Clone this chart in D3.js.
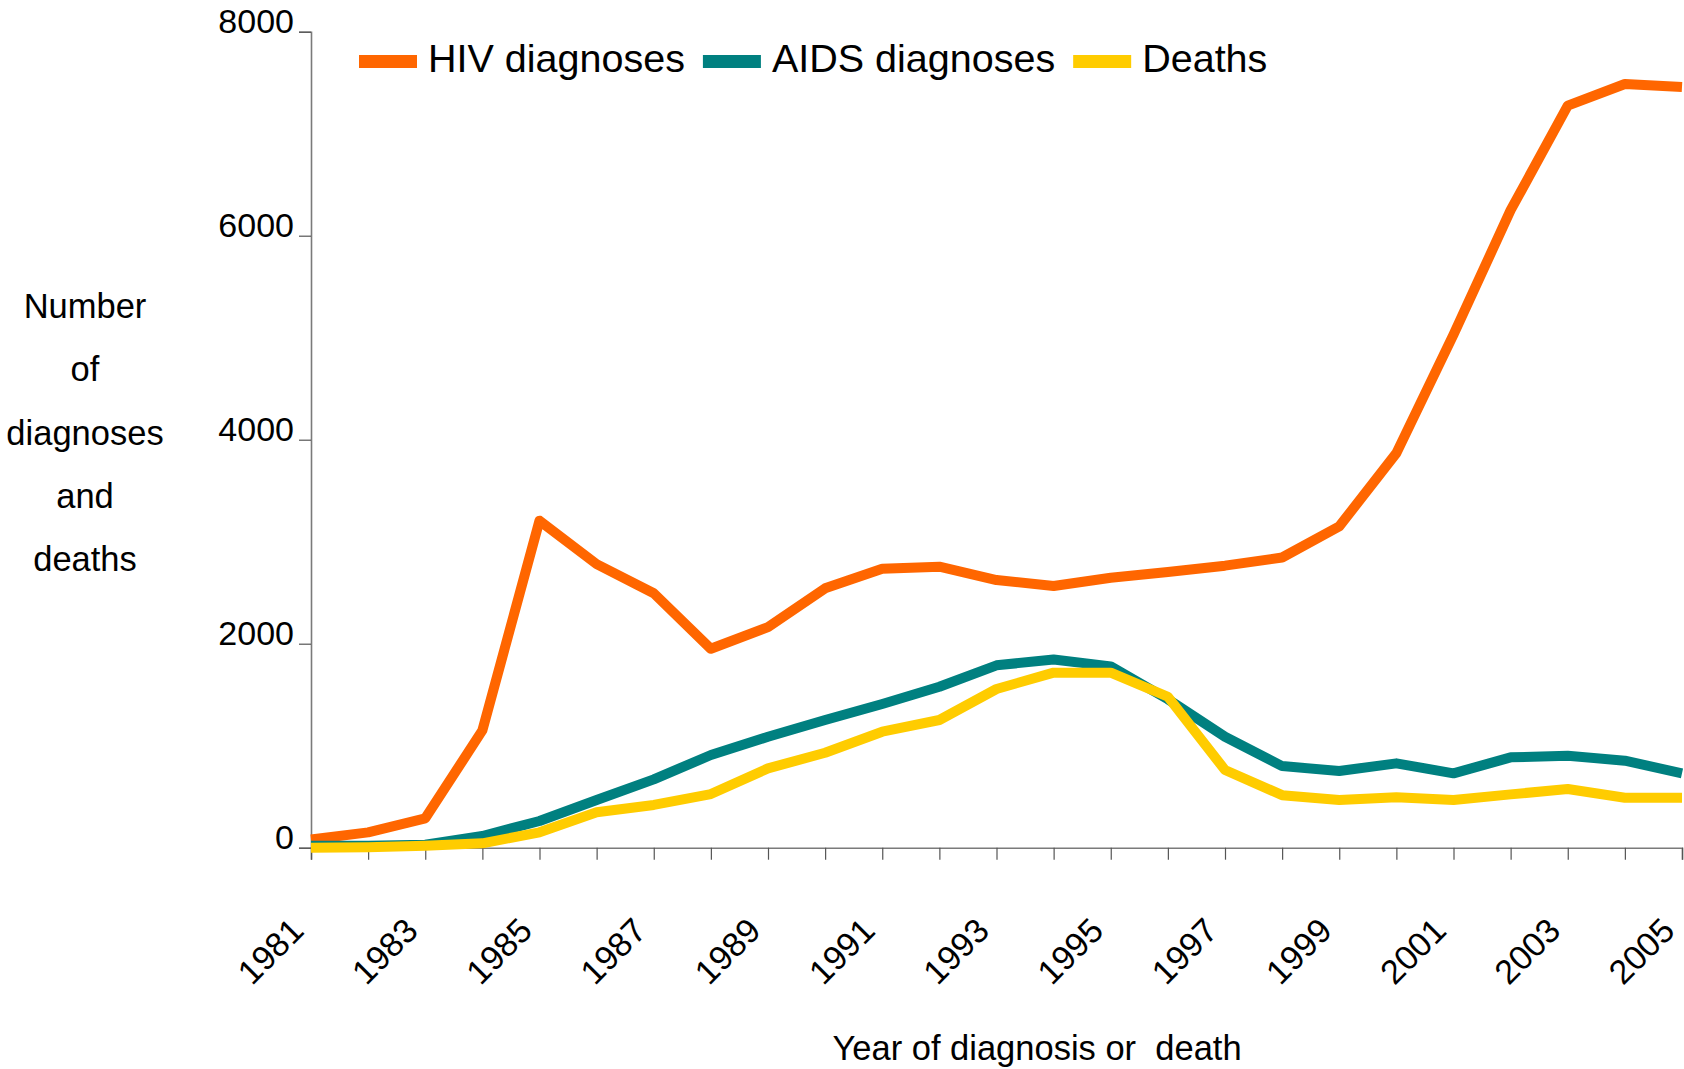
<!DOCTYPE html>
<html>
<head>
<meta charset="utf-8">
<script src="https://cdn.jsdelivr.net/npm/d3@7"></script>
<style>
  html, body { margin: 0; padding: 0; background: #ffffff; }
  svg { display: block; font-family: "Liberation Sans", Arial, sans-serif; }
  text { fill: #000000; }
</style>
</head>
<body>
<svg id="chart" width="1684" height="1069"></svg>
<script>
// Annual counts, 1981–2005
const years = d3.range(1981, 2006);
const hivDiagnoses = [80, 150, 288, 1150, 3206, 2780, 2495, 1950, 2162, 2543, 2735, 2755, 2624, 2566, 2647, 2703, 2765, 2845, 3150, 3868, 5030, 6250, 7275, 7487, 7457];
const aidsDiagnoses = [20, 20, 30, 115, 262, 468, 670, 909, 1088, 1252, 1409, 1578, 1788, 1845, 1778, 1455, 1088, 800, 752, 827, 729, 886, 902, 853, 729];
const deaths = [0, 5, 20, 43, 151, 347, 419, 526, 778, 931, 1137, 1252, 1556, 1716, 1716, 1480, 762, 515, 468, 494, 468, 523, 575, 490, 490];

const seriesNames = ["HIV diagnoses", "AIDS diagnoses", "Deaths"];
const seriesColors = ["#ff6600", "#008080", "#ffcc00"];
const yTickValues = [0, 2000, 4000, 6000, 8000];
const yTitleLines = ["Number", "of", "diagnoses", "and", "deaths"];
const xTitle = "Year of diagnosis or  death";

const svg = d3.select("#chart");

const plot = { left: 311, right: 1682, top: 31.7, bottom: 847.7 };

const x = d3.scaleLinear().domain([1981, 2005]).range([plot.left, plot.right]);
const y = d3.scaleLinear().domain([0, 8000]).range([plot.bottom, plot.top]);

// Y axis
const yAxis = d3.axisLeft(y)
  .tickValues(yTickValues)
  .tickSize(12)
  .tickPadding(5)
  .tickFormat(d3.format("d"));
const gy = svg.append("g")
  .attr("transform", `translate(${plot.left},0)`)
  .call(yAxis);
gy.select(".domain").attr("stroke", "#7a7a7a").attr("stroke-width", 1.6);
gy.selectAll(".tick line").attr("stroke", "#555").attr("stroke-width", 1.2);
gy.selectAll(".tick text")
  .attr("font-size", 34)
  .attr("dy", "0.02em")
  .attr("dominant-baseline", "alphabetic")
  .attr("y", 0)
  .attr("font-family", "Liberation Sans, Arial, sans-serif");

// X axis: a tick for every year, labels on odd years
const xAxis = d3.axisBottom(x)
  .tickValues(years)
  .tickSize(12)
  .tickFormat(d => (d % 2 === 1 ? String(d) : ""));
const gx = svg.append("g")
  .attr("transform", `translate(0,${plot.bottom})`)
  .call(xAxis);
gx.select(".domain").attr("stroke", "#7a7a7a").attr("stroke-width", 1.6);
gx.selectAll(".tick line").attr("stroke", "#555").attr("stroke-width", 1.2);
gx.selectAll(".tick text")
  .attr("font-size", 34)
  .attr("font-family", "Liberation Sans, Arial, sans-serif")
  .attr("text-anchor", "end")
  .attr("dy", null)
  .attr("y", null)
  .attr("transform", "translate(-6,85) rotate(-45)");

// Series lines
const series = [hivDiagnoses, aidsDiagnoses, deaths];
const line = d3.line()
  .x((d, i) => x(years[i]))
  .y(d => y(d));

svg.append("g")
  .selectAll("path")
  .data(series)
  .join("path")
  .attr("d", d => line(d))
  .attr("fill", "none")
  .attr("stroke", (d, i) => seriesColors[i])
  .attr("stroke-width", 10)
  .attr("stroke-linejoin", "round")
  .attr("stroke-linecap", "butt");

// Legend
const legend = svg.append("g").attr("font-size", 39.5);
let lx = 359;
seriesNames.forEach((name, i) => {
  legend.append("rect")
    .attr("x", lx).attr("y", 55)
    .attr("width", 58).attr("height", 13)
    .attr("fill", seriesColors[i]);
  const t = legend.append("text")
    .attr("x", lx + 69).attr("y", 71.5)
    .text(name);
  lx += 69 + t.node().getComputedTextLength() + 18;
});

// Y axis title (stacked lines)
const yTitle = svg.append("text")
  .attr("font-size", 34.5)
  .attr("text-anchor", "middle");
yTitleLines.forEach((s, i) => {
  yTitle.append("tspan")
    .attr("x", 85)
    .attr("y", 318 + i * 63.3)
    .text(s);
});

// X axis title
svg.append("text")
  .attr("x", 1037)
  .attr("y", 1060)
  .attr("font-size", 34.5)
  .attr("text-anchor", "middle")
  .style("white-space", "pre")
  .text(xTitle);
</script>
</body>
</html>
